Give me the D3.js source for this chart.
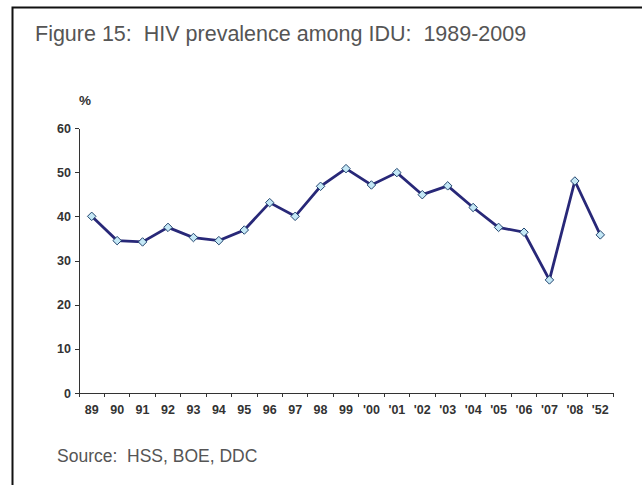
<!DOCTYPE html>
<html lang="en">
<head>
<meta charset="UTF-8">
<script src="https://d3js.org/d3.v7.min.js"></script>
<title>HIV prevalence among IDU</title>
<style>
  body { margin: 0; background: #fff; }
  .axis path, .axis line { stroke: #333; shape-rendering: crispEdges; }
  .axis text { font: bold 12.5px "Liberation Sans", Arial, sans-serif; fill: #333; }
  .caption { white-space: pre; font-family: "Liberation Sans", Arial, sans-serif; fill: #555; }
</style>
</head>
<body>
<script>
// data
var years = ["89","90","91","92","93","94","95","96","97","98","99",
             "'00","'01","'02","'03","'04","'05","'06","'07","'08","'52"];
var prevalence = [40.0, 34.5, 34.2, 37.5, 35.2, 34.5, 36.9, 43.1, 40.0, 46.8, 50.8,
                  47.1, 49.9, 44.9, 46.9, 42.0, 37.5, 36.4, 25.6, 48.0, 35.8];
var yTicks = [0, 10, 20, 30, 40, 50, 60];

var W = 642, H = 485;
var margin = {left: 79, right: 29, top: 128, bottom: 92};

var svg = d3.select("body").append("svg")
    .attr("width", W)
    .attr("height", H);

// frame
svg.append("rect")
    .attr("x", 12.5).attr("y", 7.5)
    .attr("width", 640).attr("height", 490)
    .attr("fill", "none")
    .attr("stroke", "#111")
    .attr("stroke-width", 2);

svg.append("text")
    .attr("class", "caption")
    .attr("x", 35).attr("y", 41)
    .style("font-size", "21.5px")
    .text("Figure 15:  HIV prevalence among IDU:  1989-2009");

svg.append("text")
    .attr("class", "caption")
    .attr("x", 57).attr("y", 462)
    .style("font-size", "17.5px")
    .text("Source:  HSS, BOE, DDC");

var x = d3.scaleBand().domain(years).range([margin.left, W - margin.right]);
var y = d3.scaleLinear().domain([0, 60]).range([H - margin.bottom, margin.top]);

// y axis
svg.append("g")
    .attr("class", "axis")
    .attr("transform", "translate(" + margin.left + ",0)")
    .call(d3.axisLeft(y).tickValues(yTicks).tickSize(4).tickSizeOuter(0).tickPadding(4));

// x axis, ticks between categories
var xg = svg.append("g")
    .attr("class", "axis")
    .attr("transform", "translate(0," + (H - margin.bottom) + ")")
    .call(d3.axisBottom(x).tickSize(0).tickPadding(12));
xg.selectAll(".sep")
    .data(years)
  .enter().append("line")
    .attr("class", "sep")
    .attr("x1", function(d) { return x(d) + x.bandwidth(); })
    .attr("x2", function(d) { return x(d) + x.bandwidth(); })
    .attr("y1", 0).attr("y2", 4);
xg.append("line")
    .attr("x1", margin.left).attr("x2", margin.left)
    .attr("y1", 0).attr("y2", 4);

svg.append("text")
    .attr("x", 79).attr("y", 105)
    .style("font", "bold 13.5px 'Liberation Sans', Arial, sans-serif")
    .style("fill", "#333")
    .text("%");

var cx = function(d, i) { return x(years[i]) + x.bandwidth() / 2; };

var line = d3.line()
    .x(cx)
    .y(function(d) { return y(d); });

svg.append("path")
    .datum(prevalence)
    .attr("d", line)
    .attr("fill", "none")
    .attr("stroke", "#282878")
    .attr("stroke-width", 2.8);

svg.selectAll(".dot")
    .data(prevalence)
  .enter().append("path")
    .attr("class", "dot")
    .attr("d", d3.symbol().type(d3.symbolDiamond2).size(46))
    .attr("transform", function(d, i) { return "translate(" + cx(d, i) + "," + y(d) + ")"; })
    .attr("fill", "#c4e8f6")
    .attr("stroke", "#23456f")
    .attr("stroke-width", 1);
</script>
</body>
</html>
